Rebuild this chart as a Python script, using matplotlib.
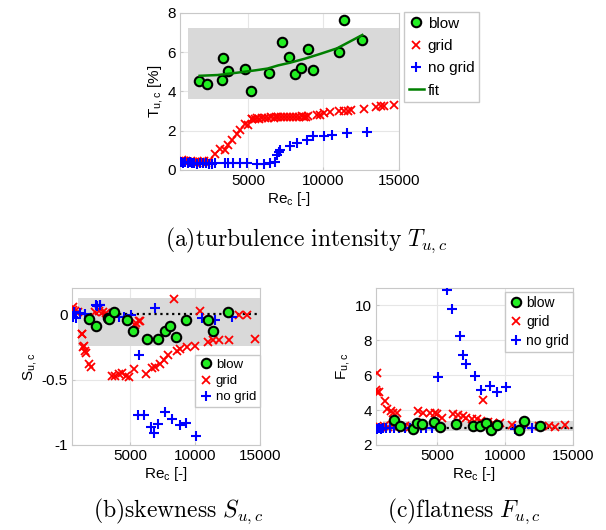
import numpy as np
import matplotlib
matplotlib.use('Agg')
import matplotlib.pyplot as plt

plt.rcParams['font.family'] = ['Liberation Sans', 'DejaVu Sans']
plt.rcParams['mathtext.fontset'] = 'cm'
plt.rcParams['mathtext.default'] = 'regular'

# ---- (a) turbulence intensity ----
blow_re = [1780, 2320, 3270, 3380, 3710, 4820, 5220, 6370, 7230, 7700, 8090, 8520, 8960, 9310, 11020, 11350, 12570]
blow_t = [4.51, 4.36, 4.60, 5.69, 5.04, 5.16, 4.00, 4.96, 6.51, 5.78, 4.91, 5.20, 6.15, 5.08, 6.02, 7.62, 6.60]

fit_re = [1800, 3000, 4300, 5500, 6300, 7000, 7800, 8800, 9800, 10900, 12570]
fit_t = [4.80, 4.84, 4.96, 5.08, 5.17, 5.33, 5.47, 5.68, 5.92, 6.20, 6.88]

grid_re = [600, 750, 900, 1050, 1200, 1350, 1500, 1650, 1800, 1950, 2100, 2250, 2400,
           2830, 3160, 3450, 3650, 3950, 4260, 4500, 4820, 5000, 5260,
           5300, 5450, 5600, 5750, 5900, 6100, 6300, 6500, 6700, 6850, 7000, 7200, 7400,
           7600, 7800, 8000, 8200, 8400, 8550, 8700, 8850, 9000,
           9580, 9800, 10020, 10460, 11020, 11350, 11600, 11800, 12680, 13450, 13800, 14000, 14670]
grid_t = [0.50, 0.45, 0.48, 0.42, 0.45, 0.40, 0.43, 0.38, 0.42, 0.40, 0.44, 0.38, 0.45,
          0.82, 1.08, 1.02, 1.25, 1.54, 1.83, 2.05, 2.36, 2.30, 2.60,
          2.60, 2.62, 2.65, 2.60, 2.66, 2.63, 2.66, 2.68, 2.65, 2.70, 2.68, 2.70, 2.68,
          2.72, 2.68, 2.70, 2.72, 2.70, 2.75, 2.68, 2.72, 2.74,
          2.82, 2.78, 2.90, 2.96, 3.00, 3.03, 3.02, 3.08, 3.12, 3.22, 3.25, 3.28, 3.33]

nogrid_re = [550, 700, 850, 1000, 1150, 1300, 1450, 1600, 1800, 2000, 2200, 2400, 2600,
             2830, 3490, 3700, 4040, 4480, 4930, 5590, 6030, 6480, 6810,
             6920, 7030, 7140, 7810, 8250, 8910, 9310, 10020, 10570, 11570, 12900]
nogrid_t = [0.40, 0.38, 0.42, 0.36, 0.40, 0.35, 0.38, 0.33, 0.36, 0.34, 0.35, 0.30, 0.33,
            0.34, 0.38, 0.36, 0.36, 0.34, 0.34, 0.32, 0.33, 0.34, 0.43,
            0.77, 0.94, 1.03, 1.23, 1.40, 1.54, 1.71, 1.74, 1.80, 1.88, 1.95]

# ---- (b) skewness ----
blow_s_re = [1780, 2350, 3250, 3370, 3760, 4730, 5170, 6270, 7170, 7690, 8070, 8530, 9300, 11020, 11350, 12530]
blow_s = [-0.036, -0.089, -0.03, -0.038, 0.013, -0.048, -0.13, -0.19, -0.19, -0.13, -0.094, -0.175, -0.048, -0.048, -0.13, 0.02]

grid_s_re = [580, 600, 760, 1000, 1240, 1270, 1360, 1450, 1490, 1600, 1780, 1960,
             2255, 2580, 2890, 3150, 3580, 3840, 4090, 4350, 4680, 4860, 5250,
             5380, 5440, 5690, 5760, 6220, 6660, 6920, 7250, 7560, 7940, 8330, 8580, 8840,
             9400, 9990, 10380, 11020, 11400, 11870, 12640, 13410, 13970, 14610]
grid_s = [0.053, 0.03, 0.028, 0.02, -0.15, -0.15, -0.25, -0.24, -0.285, -0.30, -0.38, -0.40,
          0.02, 0.027, 0.02, 0.008, -0.475, -0.47, -0.46, -0.45, -0.47, -0.48, -0.42,
          -0.08, -0.07, -0.056, -0.056, -0.455, -0.41, -0.40, -0.38, -0.35, -0.31, 0.114, -0.28, -0.27,
          -0.25, -0.24, 0.028, -0.21, -0.20, -0.20, -0.20, -0.01, -0.01, -0.19]

nogrid_s_re = [550, 630, 830, 1140, 1530, 2330, 2430, 2630, 2680, 3710, 4090, 4480, 5040, 5630, 6920,
               5560, 6070, 6580, 6840, 7100, 7690, 8200, 8840, 9300, 10070, 10510, 11530, 12820]
nogrid_s = [-0.02, 0.013, -0.03, 0.008, 0.003, 0.07, 0.063, 0.07, 0.07, -0.005, -0.018, -0.018, -0.005, -0.31, 0.046,
            -0.77, -0.77, -0.86, -0.91, -0.84, -0.75, -0.80, -0.85, -0.835, -0.93, -0.03, -0.043, -0.018]

# ---- (c) flatness ----
blow_f_re = [1850, 2260, 3240, 3490, 3860, 4790, 5200, 6380, 7650, 8140, 8580, 8930, 9370, 11030, 11370, 12550]
blow_f = [3.44, 3.09, 2.94, 3.25, 3.19, 3.29, 3.05, 3.19, 3.09, 3.09, 3.25, 2.86, 3.13, 2.86, 3.38, 3.09]

grid_f_re = [500, 560, 600, 750, 1160, 1330, 1580, 1770, 2020, 800, 1100, 1400, 1700, 2200, 2600, 3000,
             3610, 3980, 4470, 4840, 5010, 5330, 6180, 6550, 6920, 7160, 7530, 7900, 8340, 8260,
             8750, 9120, 9610, 10500, 11500, 12500, 13200, 13700, 14400]
grid_f = [5.17, 5.05, 6.11, 5.01, 4.53, 4.09, 3.96, 3.86, 3.82, 3.05, 3.10, 3.05, 3.12, 3.08, 3.10, 3.05,
          3.96, 3.86, 3.86, 3.86, 3.77, 3.57, 3.77, 3.73, 3.67, 3.57, 3.48, 3.48, 4.57, 3.38,
          3.29, 3.25, 3.25, 3.15, 3.12, 3.10, 3.08, 3.05, 3.12]

nogrid_f_re = [550, 700, 850, 1000, 1200, 1500, 1800, 2200, 2600, 3000, 3400, 3800, 4200, 4600,
               5080, 5690, 6130, 6670, 6920, 7160, 7770, 8260, 8880, 9370, 10100, 10710, 11200, 12000]
nogrid_f = [2.92, 2.95, 2.90, 3.0, 2.95, 3.0, 2.95, 3.0, 2.98, 3.0, 2.97, 3.0, 3.0, 3.0,
            5.88, 10.87, 9.77, 8.22, 7.16, 6.64, 5.93, 5.17, 5.36, 5.01, 5.30, 2.94, 3.0, 3.0]

green = '#22ee22'
fit_green = (0, 0.5, 0)
frame = '#c8c8c8'

fig = plt.figure(figsize=(6.06, 5.30), dpi=100)


def style_axes(ax):
    for s in ax.spines.values():
        s.set_color(frame)
        s.set_linewidth(0.8)
    ax.grid(True, color='#e6e6e6', linewidth=0.8)
    ax.set_axisbelow(True)
    ax.tick_params(direction='in', length=2.5, color=frame, labelsize=11, pad=3)
    ax.set_xlim(500, 15000)
    ax.set_xticks([5000, 10000, 15000])
    ax.set_xlabel('Re$_c$ [-]', fontsize=11, labelpad=1)


def plot_series(ax, bre, bv, gre, gv, nre, nv):
    ax.plot(gre, gv, 'x', color='red', ms=5.5, mew=1.3, label='grid', zorder=3)
    ax.plot(nre, nv, '+', color='blue', ms=7.5, mew=1.5, label='no grid', zorder=3)
    ax.plot(bre, bv, 'o', mfc=green, mec='black', mew=1.5, ms=6.8, label='blow', zorder=4)


def add_legend(target, ax, names, fs, **kw):
    h, l = ax.get_legend_handles_labels()
    idx = [l.index(n) for n in names]
    return target.legend([h[i] for i in idx], [l[i] for i in idx], fontsize=fs,
                         fancybox=False, edgecolor=frame, framealpha=1,
                         handlelength=1.0, handletextpad=0.25, borderpad=0.3,
                         borderaxespad=0, **kw)


# (a)
ax1 = fig.add_axes([180 / 606, 1 - 170 / 530, 219 / 606, 157 / 530])
style_axes(ax1)
ax1.fill_between([1000, 15000], 3.6, 7.25, color='#d9d9d9', zorder=1, linewidth=0)
plot_series(ax1, blow_re, blow_t, grid_re, grid_t, nogrid_re, nogrid_t)
ax1.plot(fit_re, fit_t, '-', color=fit_green, lw=1.8, label='fit', zorder=5)
ax1.set_ylim(0, 8)
ax1.set_yticks([0, 2, 4, 6, 8])
ax1.set_ylabel('T$_{u,c}$ [%]', fontsize=11, labelpad=2)
add_legend(fig, ax1, ['blow', 'grid', 'no grid', 'fit'], 11, loc='upper left',
           bbox_to_anchor=(404 / 606, 1 - 12 / 530), labelspacing=0.55)

# (b)
ax2 = fig.add_axes([72 / 606, 1 - 445 / 530, 188 / 606, 157 / 530])
style_axes(ax2)
ax2.fill_between([1000, 15000], -0.245, 0.12, color='#d9d9d9', zorder=1, linewidth=0)
ax2.axhline(0, color='black', ls=':', lw=1.6, zorder=2)
plot_series(ax2, blow_s_re, blow_s, grid_s_re, grid_s, nogrid_s_re, nogrid_s)
ax2.set_ylim(-1, 0.2)
ax2.set_yticks([-1, -0.5, 0])
ax2.set_yticklabels(['-1', '-0.5', '0'])
ax2.set_ylabel('S$_{u,c}$', fontsize=11, labelpad=2)
add_legend(ax2, ax2, ['blow', 'grid', 'no grid'], 9.5, loc='lower right',
           bbox_to_anchor=(1.0, 0.24), labelspacing=0.3)

# (c)
ax3 = fig.add_axes([376 / 606, 1 - 445 / 530, 197 / 606, 157 / 530])
style_axes(ax3)
ax3.fill_between([1000, 15000], 2.8, 3.35, color='#d9d9d9', zorder=1, linewidth=0)
ax3.axhline(3, color='black', ls=':', lw=1.6, zorder=2)
plot_series(ax3, blow_f_re, blow_f, grid_f_re, grid_f, nogrid_f_re, nogrid_f)
ax3.set_ylim(2, 11)
ax3.set_yticks([2, 4, 6, 8, 10])
ax3.set_ylabel('F$_{u,c}$', fontsize=11, labelpad=2)
add_legend(ax3, ax3, ['blow', 'grid', 'no grid'], 10, loc='upper right',
           bbox_to_anchor=(1.0, 0.975), labelspacing=0.35)

# captions
fig.text(306 / 606, 1 - 240 / 530, r'$\mathrm{(a)turbulence\ intensity\ }\mathit{T_{u,c}}$',
         ha='center', va='center', fontsize=17)
fig.text(178 / 606, 1 - 511 / 530, r'$\mathrm{(b)skewness\ }\mathit{S_{u,c}}$',
         ha='center', va='center', fontsize=17)
fig.text(464 / 606, 1 - 511 / 530, r'$\mathrm{(c)flatness\ }\mathit{F_{u,c}}$',
         ha='center', va='center', fontsize=17)

fig.savefig('out.png', dpi=100)
